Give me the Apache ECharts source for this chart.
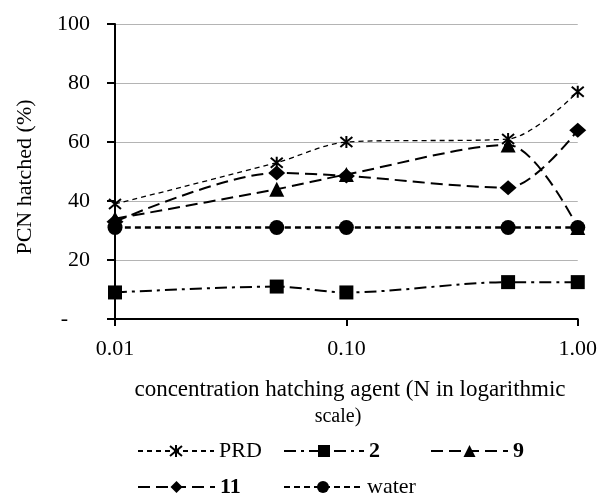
<!DOCTYPE html>
<html>
<head>
<meta charset="utf-8">
<script src="https://cdn.jsdelivr.net/npm/echarts@6/dist/echarts.min.js"></script>
<style>html,body{margin:0;padding:0;background:#fff;}#c{width:600px;height:496px;}</style>
</head>
<body>
<div id="c"></div>
<script>
// Data
const concentrations = [0.01, 0.05, 0.1, 0.5, 1.0];
const seriesNames = ['PRD', '2', '9', '11', 'water'];
const prdValues = [39, 53, 60, 61, 77];
const s2Values = [9, 11, 9, 12.5, 12.5];
const s9Values = [34, 44, 49, 59, 31];
const s11Values = [33, 49.5, 48.5, 44.5, 64];
const waterValues = [31, 31, 31, 31, 31];
const yTicks = [0, 20, 40, 60, 80, 100];
const xTickLabels = ['0.01', '0.10', '1.00'];

const FONT = 'Liberation Serif';
const pairs = vals => concentrations.map((x, i) => [x, vals[i]]);
const asterisk = 'path://M0,0L10,10M10,0L0,10M5,-1L5,11';

const chart = echarts.init(document.getElementById('c'), null, {renderer: 'canvas'});

function mkSeries(name, vals, symbol, size, dash, width, stroke) {
  return {
    name: name, type: 'line', data: pairs(vals), smooth: 0.3,
    symbol: symbol, symbolSize: size,
    lineStyle: {color: '#000', width: width, type: dash},
    itemStyle: stroke ? {color: '#000', borderColor: '#000', borderWidth: 2}
                      : {color: '#000', borderWidth: 0},
    emphasis: {disabled: true},
    animation: false
  };
}

function mkLegend(name, left, top, w, bold) {
  return {
    data: [{name: name, textStyle: {fontWeight: bold ? 'bold' : 'normal'}}],
    left: left, top: top, itemWidth: w, itemHeight: 15, itemGap: 0,
    textStyle: {fontFamily: FONT, fontSize: 22, color: '#000', padding: [0,0,0,0]},
    selectedMode: false
  };
}

const option = {
  animation: false,
  backgroundColor: '#fff',
  grid: {left: 115, right: 21, top: 24, bottom: 177, containLabel: false},
  xAxis: {
    type: 'log', logBase: 10, min: 0.01, max: 1,
    axisLine: {show: true, lineStyle: {color: '#000', width: 2}},
    axisTick: {show: true, inside: false, length: 7, lineStyle: {color: '#000', width: 2}},
    splitLine: {show: false},
    minorTick: {show: false},
    axisLabel: {
      margin: 19, fontFamily: FONT, fontSize: 22, color: '#000',
      formatter: v => {
        const i = Math.round(Math.log10(v)) + 2;
        return xTickLabels[i] !== undefined ? xTickLabels[i] : '';
      }
    }
  },
  yAxis: {
    type: 'value', min: yTicks[0], max: yTicks[yTicks.length - 1], interval: 20,
    axisLine: {show: true, lineStyle: {color: '#000', width: 2}},
    axisTick: {show: true, inside: false, length: 8, lineStyle: {color: '#000', width: 2}},
    splitLine: {show: true, lineStyle: {color: '#b4b4b4', width: 1}},
    axisLabel: {
      margin: 25, fontFamily: FONT, fontSize: 22, color: '#000',
      formatter: v => v === 0 ? '{d|-}' : String(v),
      rich: {d: {fontFamily: FONT, fontSize: 22, color: '#000', padding: [0, 22, 0, 0]}}
    }
  },
  legend: [
    mkLegend('PRD', 132, 435, 76, false),
    mkLegend('2', 278, 435, 80, true),
    mkLegend('9', 425, 435, 77, true),
    mkLegend('11', 132, 471, 77, true),
    mkLegend('water', 278, 471, 78, false)
  ],
  graphic: [
    {type: 'text', x: 25, y: 177, rotation: Math.PI / 2, silent: true,
     style: {text: 'PCN hatched (%)', fontFamily: FONT, fontSize: 22, fill: '#000',
             align: 'center', verticalAlign: 'middle'}},
    {type: 'text', x: 350, y: 390, silent: true,
     style: {text: 'concentration hatching agent (N in logarithmic', fontFamily: FONT, fontSize: 23, fill: '#000',
             align: 'center', verticalAlign: 'middle'}},
    {type: 'text', x: 338, y: 417, silent: true,
     style: {text: 'scale)', fontFamily: FONT, fontSize: 20, fill: '#000',
             align: 'center', verticalAlign: 'middle'}}
  ],
  series: [
    mkSeries(seriesNames[0], prdValues, asterisk, 12, [5, 4], 1.3, true),
    mkSeries(seriesNames[1], s2Values, 'rect', 14, [12, 5, 3, 5], 2, false),
    mkSeries(seriesNames[2], s9Values, 'triangle', 15, [12, 6], 2, false),
    mkSeries(seriesNames[3], s11Values, 'diamond', [17, 15], [12, 6], 2, false),
    mkSeries(seriesNames[4], waterValues, 'circle', 15, [6, 4], 2.5, false)
  ]
};
chart.setOption(option);
</script>
</body>
</html>
